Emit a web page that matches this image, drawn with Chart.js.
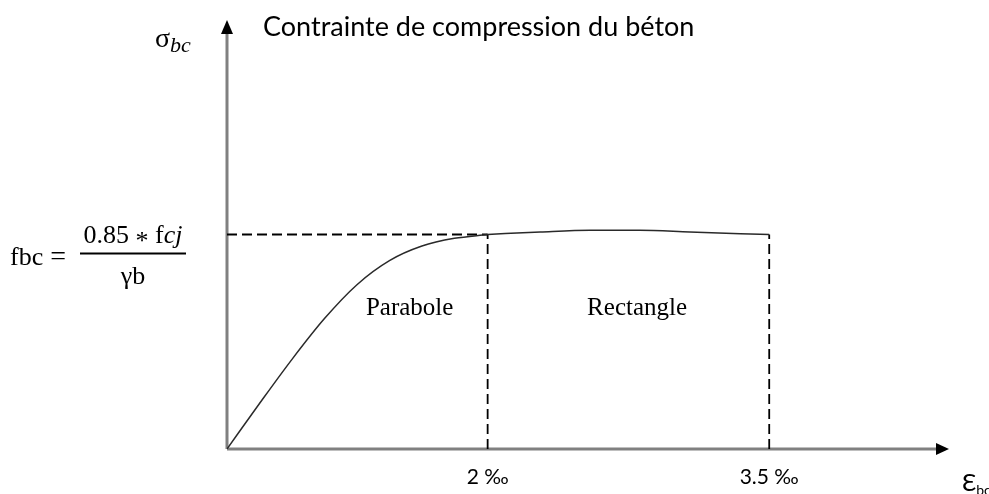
<!DOCTYPE html>
<html>
<head>
<meta charset="utf-8">
<title>Contrainte de compression du béton</title>
<script src="https://cdn.jsdelivr.net/npm/chart.js@4.4.1/dist/chart.umd.min.js"></script>
<style>
  html, body { margin: 0; padding: 0; background: #ffffff; }
  #wrap { width: 989px; height: 494px; }
</style>
</head>
<body>
<div id="wrap"><canvas id="diagram"></canvas></div>
<script>
// axes run 0..100 (share of the drawn axis length) - the sketch is not to scale
var parabolaX = [0, 4.5, 9, 13.5, 18, 22.5, 27, 31.5, 36.1];
var parabolaY = [0, 10.6, 20.9, 30.4, 38.3, 43.9, 47.3, 49.1, 50.0];
var rectangleX = [36.1, 43.4, 50.3, 57.2, 64.1, 71.1, 75.1];
var rectangleY = [50.0, 50.6, 51.0, 51.0, 50.6, 50.2, 50.0];

var fbcLevel = 50;
var strainTicks = [36.1, 75.1];
var strainLabels = ['2 \u2030', '3.5 \u2030'];
var zoneNames = ['Parabole', 'Rectangle'];

var titleText = 'Contrainte de compression du béton';

function pts(xs, ys) {
    return xs.map(function (x, i) { return { x: x, y: ys[i] }; });
}

function dashed(points) {
    return {
        data: points,
        showLine: true,
        borderColor: '#000000',
        borderWidth: 1.8,
        borderDash: [10, 5],
        pointRadius: 0,
        fill: false
    };
}

// draws a list of [text, font, dy] runs one after the other
function drawRuns(ctx, runs, x, y) {
    runs.forEach(function (r) {
        ctx.font = r[1];
        ctx.fillText(r[0], x, y + (r[2] || 0));
        x += ctx.measureText(r[0]).width;
    });
}
function runsWidth(ctx, runs) {
    var w = 0;
    runs.forEach(function (r) { ctx.font = r[1]; w += ctx.measureText(r[0]).width; });
    return w;
}

var sketchPlugin = {
    id: 'sketch',
    beforeDatasetsDraw: function (chart) {
        var ctx = chart.ctx;
        var xs = chart.scales.x, ys = chart.scales.y;
        var x0 = xs.getPixelForValue(0), y0 = ys.getPixelForValue(0);
        var xEnd = xs.getPixelForValue(100), yEnd = ys.getPixelForValue(100);
        ctx.save();
        // axis lines
        ctx.strokeStyle = '#808080';
        ctx.lineWidth = 3;
        ctx.beginPath();
        ctx.moveTo(x0, y0); ctx.lineTo(xEnd - 10, y0);
        ctx.moveTo(x0, y0); ctx.lineTo(x0, yEnd + 10);
        ctx.stroke();
        // arrow heads
        ctx.fillStyle = '#000000';
        ctx.beginPath();
        ctx.moveTo(xEnd, y0); ctx.lineTo(xEnd - 13, y0 - 6); ctx.lineTo(xEnd - 13, y0 + 6);
        ctx.closePath(); ctx.fill();
        ctx.beginPath();
        ctx.moveTo(x0, yEnd); ctx.lineTo(x0 - 6, yEnd + 14); ctx.lineTo(x0 + 6, yEnd + 14);
        ctx.closePath(); ctx.fill();
        ctx.restore();
    },
    afterDatasetsDraw: function (chart) {
        var ctx = chart.ctx;
        var xs = chart.scales.x, ys = chart.scales.y;
        var y0 = ys.getPixelForValue(0);
        ctx.save();
        ctx.fillStyle = '#000000';
        ctx.textBaseline = 'alphabetic';

        // title
        ctx.font = '27px Lato, "Open Sans", sans-serif';
        ctx.textAlign = 'left';
        ctx.fillText(titleText, 263, 36);

        // strain ticks
        ctx.font = '21px Lato, "Open Sans", sans-serif';
        ctx.textAlign = 'center';
        strainTicks.forEach(function (v, i) {
            ctx.fillText(strainLabels[i], xs.getPixelForValue(v), y0 + 35);
        });

        // zone names
        ctx.font = '25px "Liberation Serif", "DejaVu Serif", serif';
        ctx.fillText(zoneNames[0], xs.getPixelForValue(25.3), ys.getPixelForValue(33.3) + 9);
        ctx.fillText(zoneNames[1], xs.getPixelForValue(56.8), ys.getPixelForValue(33.3) + 9);

        // axis names
        ctx.textAlign = 'left';
        drawRuns(ctx, [
            ['\u03c3', '28px "Liberation Serif", serif'],
            ['bc', 'italic 22px "Liberation Serif", serif', 5]
        ], 155, 47);
        drawRuns(ctx, [
            ['\u0190', '24px Lato, "DejaVu Sans", sans-serif'],
            ['bc', '14px Lato, "DejaVu Sans", sans-serif', 4]
        ], 962, 491);

        // fbc = 0.85 * fcj / yb
        var serif = '26px "Liberation Serif", serif';
        var serifI = 'italic 26px "Liberation Serif", serif';
        var yLevel = ys.getPixelForValue(fbcLevel);
        drawRuns(ctx, [['fbc', serif], [' = ', '28px "Liberation Serif", serif']], 10, yLevel + 30);
        var num = [['0.85 ', serif], ['*', serif, 6], [' f', serif], ['cj', serifI]];
        var den = [['\u03b3b', serif]];
        var cx = 133;
        drawRuns(ctx, num, cx - runsWidth(ctx, num) / 2, yLevel + 8);
        drawRuns(ctx, den, cx - runsWidth(ctx, den) / 2, yLevel + 49);
        ctx.fillRect(80, yLevel + 18, 106, 2);
        ctx.restore();
    }
};

var ctx = document.getElementById('diagram').getContext('2d');
window.myChart = new Chart(ctx, {
    type: 'scatter',
    data: {
        datasets: [
            {
                data: pts(parabolaX, parabolaY),
                showLine: true,
                borderColor: '#2a2a2a',
                borderWidth: 1.5,
                cubicInterpolationMode: 'monotone',
                pointRadius: 0,
                fill: false
            },
            {
                data: pts(rectangleX, rectangleY),
                showLine: true,
                borderColor: '#2a2a2a',
                borderWidth: 1.5,
                cubicInterpolationMode: 'monotone',
                pointRadius: 0,
                fill: false
            },
            dashed([{ x: 0, y: fbcLevel }, { x: strainTicks[0], y: fbcLevel }]),
            dashed([{ x: strainTicks[0], y: 0 }, { x: strainTicks[0], y: fbcLevel }]),
            dashed([{ x: strainTicks[1], y: 0 }, { x: strainTicks[1], y: fbcLevel }])
        ]
    },
    options: {
        responsive: true,
        maintainAspectRatio: false,
        animation: false,
        layout: { padding: { left: 227, right: 40, top: 20, bottom: 45 } },
        plugins: { legend: { display: false }, tooltip: { enabled: false } },
        scales: {
            x: { type: 'linear', min: 0, max: 100, display: false },
            y: { type: 'linear', min: 0, max: 100, display: false }
        }
    },
    plugins: [sketchPlugin]
});
</script>
</body>
</html>
